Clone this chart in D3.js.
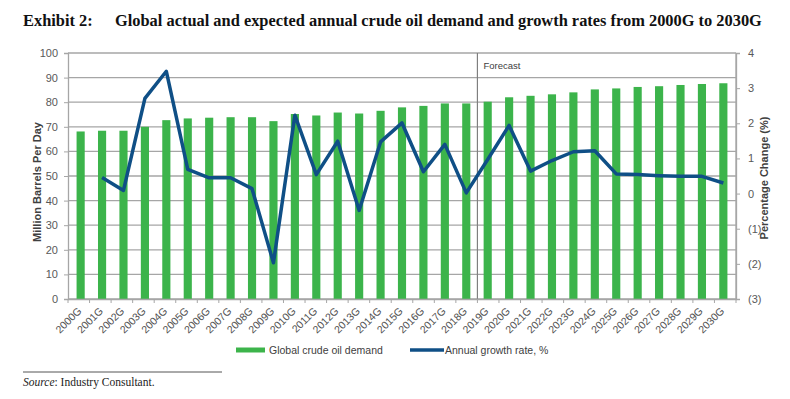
<!DOCTYPE html>
<html>
<head>
<meta charset="utf-8">
<script src="https://cdn.jsdelivr.net/npm/d3@7"></script>
<style>
  body { margin: 0; background: #fff; }
  svg text { font-family: "Liberation Sans", Arial, sans-serif; }
</style>
</head>
<body>
<svg width="790" height="399"></svg>
<script>
// chart data
const years = d3.range(2000, 2031).map(y => y + "G");
const demand = [68.1, 68.4, 68.4, 70.0, 72.7, 73.4, 73.7, 73.9, 73.9, 72.3,
                75.2, 74.6, 75.8, 75.4, 76.5, 77.9, 78.5, 79.5, 79.5, 80.2,
                82.0, 82.6, 83.2, 84.0, 85.2, 85.6, 86.2, 86.5, 87.0, 87.4, 87.7];
const growth = [null, 0.46, 0.09, 2.71, 3.48, 0.69, 0.45, 0.45, 0.14, -1.97,
                2.23, 0.54, 1.49, -0.48, 1.47, 2.01, 0.62, 1.40, 0.02, 0.97,
                1.94, 0.64, 0.94, 1.19, 1.22, 0.56, 0.54, 0.51, 0.49, 0.49, 0.30];
const leftTicks = d3.range(0, 101, 10);
const rightTicks = [-3, -2, -1, 0, 1, 2, 3, 4];
const forecastIndex = years.indexOf("2019G");

const svg = d3.select("svg");
const margin = { left: 68, right: 54, top: 53, bottom: 100 };
const width = 790, height = 399;

const x = d3.scaleBand().domain(years)
    .range([margin.left, width - margin.right])
    .paddingInner(0.62).paddingOuter(0.4);
const yL = d3.scaleLinear().domain([0, 100]).range([height - margin.bottom, margin.top]);
const yR = d3.scaleLinear().domain([-3, 4]).range([height - margin.bottom, margin.top]);

const x0 = margin.left, x1 = width - margin.right;
const cat = i => x0 + i * (x1 - x0) / years.length;  // category boundaries
const gray = "#a6a6a6";
const serif = "Liberation Serif, Times New Roman, serif";

// title
svg.append("text").attr("x", 23).attr("y", 26)
    .style("font-family", serif)
    .style("font-weight", "bold").style("font-size", "16.4px").attr("fill", "#111")
    .text("Exhibit 2:");
svg.append("text").attr("x", 115).attr("y", 26)
    .style("font-family", serif)
    .style("font-weight", "bold").style("font-size", "16.4px").attr("fill", "#111")
    .text("Global actual and expected annual crude oil demand and growth rates from 2000G to 2030G");

// gridlines
svg.append("g").selectAll("line").data(leftTicks).join("line")
    .attr("x1", x0).attr("x2", x1)
    .attr("y1", d => yL(d)).attr("y2", d => yL(d))
    .attr("stroke", gray).attr("stroke-width", 1.3);

// frame right side
svg.append("line").attr("x1", x1).attr("x2", x1).attr("y1", yL(100)).attr("y2", yL(0))
    .attr("stroke", gray).attr("stroke-width", 1.3);

// bars
svg.append("g").selectAll("rect").data(demand).join("rect")
    .attr("x", (d, i) => x(years[i]))
    .attr("width", x.bandwidth())
    .attr("y", d => yL(d))
    .attr("height", d => yL(0) - yL(d))
    .attr("fill", "#3cb44b");

// forecast divider
const fx = cat(forecastIndex);
svg.append("line").attr("x1", fx).attr("x2", fx)
    .attr("y1", yL(100)).attr("y2", yL(0))
    .attr("stroke", "#7f7f7f").attr("stroke-width", 1.2);
svg.append("text").attr("x", fx + 6).attr("y", yL(95) + 4)
    .style("font-size", "9.5px").attr("fill", "#404040")
    .text("Forecast");

// growth line
const line = d3.line()
    .defined(d => d != null)
    .x((d, i) => x(years[i]) + x.bandwidth() / 2)
    .y(d => yR(d));
svg.append("path").datum(growth)
    .attr("d", line)
    .attr("fill", "none")
    .attr("stroke", "#0f4f86")
    .attr("stroke-width", 3.5)
    .attr("stroke-linejoin", "round");

// left axis
const axL = svg.append("g").attr("transform", `translate(${x0},0)`)
    .call(d3.axisLeft(yL).tickValues(leftTicks).tickSize(4).tickPadding(6));
// right axis
const axR = svg.append("g").attr("transform", `translate(${x1},0)`)
    .call(d3.axisRight(yR).tickValues(rightTicks).tickSize(4).tickPadding(8)
        .tickFormat(d => d < 0 ? `(${-d})` : d));
// bottom axis
const axB = svg.append("g").attr("transform", `translate(0,${yL(0)})`)
    .call(d3.axisBottom(x).tickSize(0));

[axL, axR, axB].forEach(a => {
    a.selectAll(".domain").attr("stroke", gray).attr("stroke-width", 1.3);
    a.selectAll(".tick line").attr("stroke", gray);
    a.selectAll("text").attr("fill", "#595959").style("font-size", "11px");
});

// x tick marks at category boundaries
svg.append("g").selectAll("line").data(d3.range(years.length + 1)).join("line")
    .attr("x1", cat).attr("x2", cat)
    .attr("y1", yL(0)).attr("y2", yL(0) + 4)
    .attr("stroke", gray);

axB.selectAll("text")
    .style("font-size", "10.5px")
    .attr("fill", "#505050")
    .attr("text-anchor", "end")
    .attr("y", 0).attr("dy", "0.35em")
    .attr("transform", "translate(-1,10) rotate(-45)");

// axis titles
svg.append("text")
    .attr("transform", `translate(41,182) rotate(-90)`)
    .attr("text-anchor", "middle")
    .style("font-size", "11px").style("font-weight", "bold").attr("fill", "#404040")
    .text("Million Barrels Per Day");
svg.append("text")
    .attr("transform", `translate(768,178) rotate(-90)`)
    .attr("text-anchor", "middle")
    .style("font-size", "11px").style("font-weight", "bold").attr("fill", "#404040")
    .text("Percentage Change (%)");

// legend
const leg = svg.append("g").attr("transform", "translate(0,350)");
leg.append("line").attr("x1", 236).attr("x2", 265).attr("y1", 0).attr("y2", 0)
    .attr("stroke", "#3cb44b").attr("stroke-width", 5);
leg.append("text").attr("x", 269).attr("y", 4)
    .style("font-size", "10.5px").attr("fill", "#404040").text("Global crude oil demand");
leg.append("line").attr("x1", 410).attr("x2", 444).attr("y1", 0).attr("y2", 0)
    .attr("stroke", "#0f4f86").attr("stroke-width", 3.5);
leg.append("text").attr("x", 445).attr("y", 4)
    .style("font-size", "10.5px").attr("fill", "#404040").text("Annual growth rate, %");

// source
svg.append("line").attr("x1", 23).attr("x2", 222).attr("y1", 372).attr("y2", 372)
    .attr("stroke", "#555").attr("stroke-width", 1);
const src = svg.append("text").attr("x", 23).attr("y", 386)
    .style("font-family", serif)
    .style("font-size", "11.5px").attr("fill", "#222");
src.append("tspan").style("font-style", "italic").text("Source");
src.append("tspan").text(": Industry Consultant.");
</script>
</body>
</html>
